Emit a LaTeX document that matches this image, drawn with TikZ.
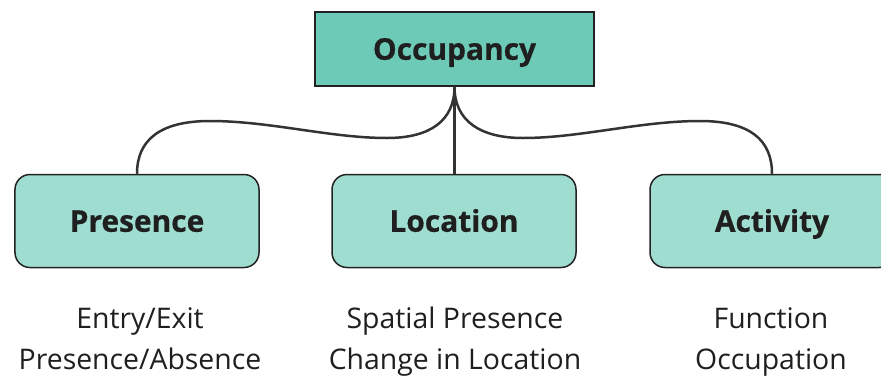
\documentclass[tikz,border=0pt]{standalone}
\usepackage{fontspec}
\setmainfont{Open Sans}
\newfontfamily\boxfont{Open Sans}[BoldFeatures={FakeBold=0.6}]
\definecolor{topfill}{HTML}{6DCAB6}
\definecolor{childfill}{HTML}{9FDDD0}
\definecolor{edge}{HTML}{222222}
\definecolor{wire}{HTML}{333333}
\begin{document}
\begin{tikzpicture}[x=1bp,y=-1bp,
  topbox/.style={draw=edge,line width=1.5bp,fill=topfill,minimum width=279bp,minimum height=74bp,inner sep=0,text height=21.5bp,text depth=0bp,font=\fontsize{30}{36}\boxfont\bfseries,text=black!88},
  childbox/.style={draw=edge,line width=1.5bp,fill=childfill,rounded corners=15bp,minimum width=244bp,minimum height=93bp,inner sep=0,text height=21.5bp,text depth=0bp,font=\fontsize{30}{36}\boxfont\bfseries,text=black!88},
  desc/.style={align=center,font=\fontsize{28.5}{41}\selectfont,text=black!88,inner sep=0,anchor=base},
  conn/.style={draw=wire,line width=2.5bp}]
\useasboundingbox (0,0) rectangle (881,379);
\node[topbox] (top) at (454.5,49) {Occupancy};
\node[childbox] (pres) at (137,221) {Presence};
\node[childbox] (loc) at (454,221) {Location};
\node[childbox] (act) at (772,221) {Activity};
\node[desc] (d1) at (140,369) {Entry/Exit\\Presence/Absence};
\node[desc] (d2) at (455,369) {Spatial Presence\\Change in Location};
\node[desc] (d3) at (771,369) {Function\\Occupation};
\draw[conn] (top.south) -- (top.south |- loc.north);
\draw[conn] (top.south) .. controls +(0,34) and (430,138) .. (387,138)
  .. controls (330,138) and (270,121) .. (210,121)
  .. controls (160,121) and (137,140) .. (pres.north);
\draw[conn] (top.south) .. controls +(0,34) and (480,138) .. (523,138)
  .. controls (580,138) and (640,121) .. (700,121)
  .. controls (750,121) and (772,140) .. (act.north);
\end{tikzpicture}
\end{document}
